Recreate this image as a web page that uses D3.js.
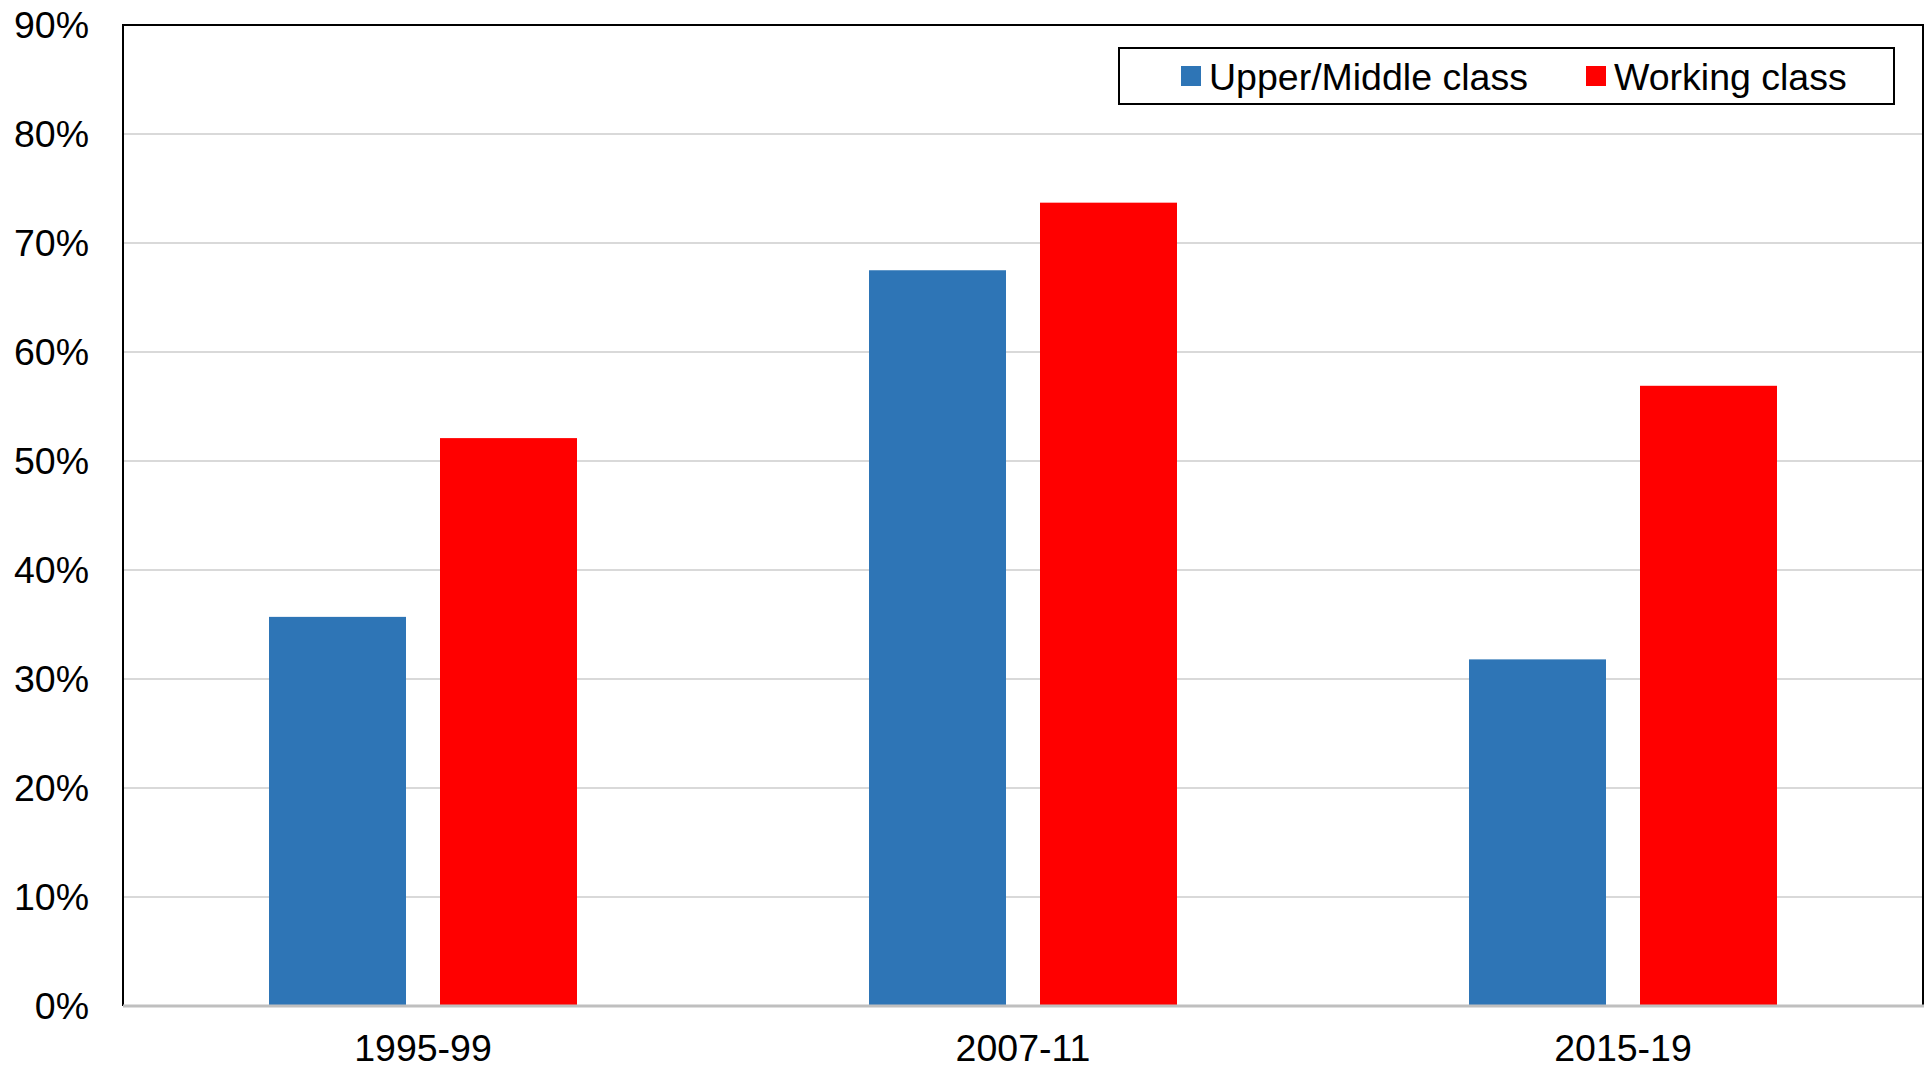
<!DOCTYPE html>
<html>
<head>
<meta charset="utf-8">
<script src="https://cdn.jsdelivr.net/npm/d3@7"></script>
<style>
  html, body { margin: 0; padding: 0; background: #ffffff; }
  svg { display: block; }
  text { font-family: "Liberation Sans", Arial, sans-serif; fill: #000; }
</style>
</head>
<body>
<svg id="chart" width="1926" height="1069"></svg>
<script>
const categories = ["1995-99", "2007-11", "2015-19"];
const seriesNames = ["Upper/Middle class", "Working class"];
const upperMiddle = [35.7, 67.5, 31.8];
const working = [52.1, 73.7, 56.9];
const yTicks = [0, 10, 20, 30, 40, 50, 60, 70, 80, 90];
const colors = ["#2E75B6", "#FF0000"];

(function () {
const series = [upperMiddle, working];
const svg = d3.select("#chart");
const pLeft = 123, pRight = 1923, pTop = 25, pBottom = 1006;
const fontSize = "37.5px";

const x = d3.scaleBand().domain(categories).range([pLeft, pRight]).paddingInner(0).paddingOuter(0);
const barW = 137, barGap = 34;
const groupW = 2 * barW + barGap;
const x1 = d3.scaleBand().domain(d3.range(series.length)).range([0, groupW]).paddingInner(barGap / (barW + barGap)).paddingOuter(0);
const y = d3.scaleLinear().domain([0, 90]).range([pBottom, pTop]);

// gridlines
svg.append("g")
  .selectAll("line")
  .data(yTicks.filter(d => d > 0 && d < 90))
  .join("line")
  .attr("x1", pLeft).attr("x2", pRight)
  .attr("y1", d => y(d)).attr("y2", d => y(d))
  .attr("stroke", "#D9D9D9").attr("stroke-width", 2);

// bars
categories.forEach((c, i) => {
  const g = svg.append("g")
    .attr("transform", `translate(${x(c) + (x.bandwidth() - groupW) / 2},0)`);
  series.forEach((s, k) => {
    g.append("rect")
      .attr("x", x1(k))
      .attr("width", x1.bandwidth())
      .attr("y", y(s[i]))
      .attr("height", pBottom - y(s[i]))
      .attr("fill", colors[k]);
  });
});

// plot border (top, left, right)
svg.append("path")
  .attr("d", `M${pLeft},${pBottom} L${pLeft},${pTop} L${pRight},${pTop} L${pRight},${pBottom}`)
  .attr("fill", "none").attr("stroke", "#000").attr("stroke-width", 2);

// x axis line
svg.append("line")
  .attr("x1", pLeft).attr("x2", pRight + 1)
  .attr("y1", pBottom).attr("y2", pBottom)
  .attr("stroke", "#BFBFBF").attr("stroke-width", 3);

// y axis labels
const yAxis = d3.axisLeft(y).tickValues(yTicks).tickFormat(d => d + "%").tickSize(0).tickPadding(34);
const gy = svg.append("g").attr("transform", `translate(${pLeft},0)`).call(yAxis);
gy.select(".domain").remove();
gy.selectAll("text")
  .style("font-family", '"Liberation Sans", Arial, sans-serif')
  .style("font-size", fontSize).attr("fill", "#000");

// x axis labels
const xAxis = d3.axisBottom(x).tickSize(0).tickPadding(28);
const gx = svg.append("g").attr("transform", `translate(0,${pBottom})`).call(xAxis);
gx.select(".domain").remove();
gx.selectAll("text")
  .style("font-family", '"Liberation Sans", Arial, sans-serif')
  .style("font-size", fontSize).attr("fill", "#000");

// legend
const legend = svg.append("g");
legend.append("rect")
  .attr("x", 1119).attr("y", 48).attr("width", 775).attr("height", 56)
  .attr("fill", "#fff").attr("stroke", "#000").attr("stroke-width", 2);
const legendX = [1181, 1586];
seriesNames.forEach((n, k) => {
  legend.append("rect")
    .attr("x", legendX[k]).attr("y", 66).attr("width", 20).attr("height", 20)
    .attr("fill", colors[k]);
  legend.append("text")
    .attr("x", legendX[k] + 28).attr("y", 77).attr("dy", "0.35em")
    .style("font-size", fontSize)
    .text(n);
});
})();
</script>
</body>
</html>
